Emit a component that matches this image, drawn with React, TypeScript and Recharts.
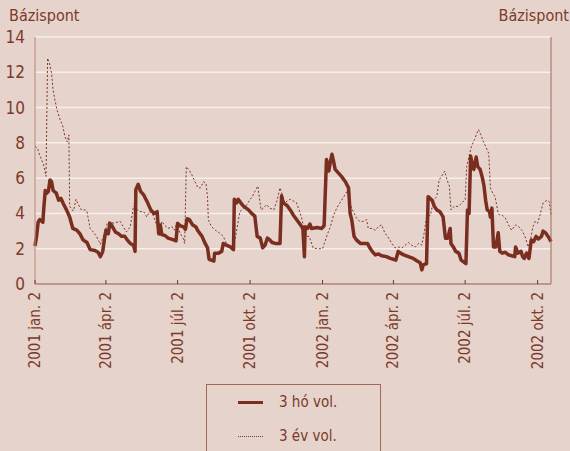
import { LineChart, Line, XAxis, YAxis, CartesianGrid } from "recharts"

// day index counted from 2001-01-02
const tickDays = [0, 90, 181, 273, 365, 455, 546, 638]
const tickLabels = [
  "2001 jan. 2",
  "2001 ápr. 2",
  "2001 júl. 2",
  "2001 okt. 2",
  "2002 jan. 2",
  "2002 ápr. 2",
  "2002 júl. 2",
  "2002 okt. 2",
]
const yTicks = [0, 2, 4, 6, 8, 10, 12, 14]

// 3 hó vol.
const hoDays = [
  0, 2, 4, 6, 10, 11, 13, 15, 17, 19, 21, 23, 27, 30, 33, 36, 40, 44, 48, 53, 57, 61, 66, 70, 76, 80, 83, 86, 88,
  90, 93, 95, 97, 102, 106, 110, 114, 117, 121, 125, 127, 128, 131, 134, 138, 143, 147, 151, 155, 157, 159, 161,
  165, 169, 176, 179, 181, 184, 188, 191, 193, 196, 200, 204, 207, 212, 216, 219, 221, 224, 227, 228, 233, 237,
  239, 243, 248, 252, 253, 256, 258, 262, 265, 268, 271, 275, 279, 282, 286, 289, 292, 295, 298, 301, 305, 311,
  313, 315, 320, 324, 328, 332, 337, 340, 342, 343, 346, 349, 351, 358, 364, 367, 370, 373, 375, 377, 379, 381,
  385, 389, 394, 398, 400, 402, 405, 408, 413, 419, 422, 425, 428, 432, 436, 440, 446, 451, 455, 458, 461, 464,
  468, 474, 480, 485, 489, 491, 493, 497, 499, 504, 507, 510, 514, 518, 521, 524, 527, 528, 531, 534, 538, 541,
  544, 547, 549, 551, 553, 556, 557, 560, 562, 565, 568, 570, 572, 574, 577, 578, 580, 582, 585, 588, 590, 593,
  597, 601, 605, 609, 610, 613, 617, 619, 621, 624, 627, 630, 633, 636, 639, 643, 645, 648, 652, 655,
]
const hoValues = [
  2.15, 2.7, 3.5, 3.65, 3.5, 4.2, 5.3, 5.15, 5.25, 5.9, 5.8, 5.3, 5.15, 4.75, 4.85, 4.55, 4.2, 3.8, 3.15, 3.05,
  2.85, 2.5, 2.35, 1.95, 1.9, 1.8, 1.55, 1.85, 2.5, 3.05, 2.85, 3.45, 3.35, 2.95, 2.85, 2.7, 2.7, 2.5, 2.3, 2.2,
  1.85, 5.35, 5.65, 5.25, 5.05, 4.6, 4.2, 4.0, 4.1, 2.85, 3.35, 2.8, 2.75, 2.6, 2.5, 2.45, 3.45, 3.3, 3.25, 3.1,
  3.7, 3.65, 3.35, 3.25, 3.0, 2.7, 2.3, 2.05, 1.4, 1.35, 1.3, 1.75, 1.75, 1.85, 2.3, 2.2, 2.1, 1.95, 4.8, 4.6,
  4.8, 4.55, 4.4, 4.3, 4.2, 4.0, 3.85, 2.7, 2.6, 2.05, 2.2, 2.6, 2.5, 2.35, 2.3, 2.3, 5.0, 4.6, 4.45, 4.2, 3.9,
  3.65, 3.35, 3.15, 1.55, 3.25, 3.15, 3.4, 3.15, 3.2, 3.15, 3.3, 7.05, 6.4, 6.95, 7.35, 6.95, 6.5, 6.3, 6.1, 5.8,
  5.45, 4.0, 3.65, 2.7, 2.5, 2.3, 2.3, 2.3, 2.05, 1.85, 1.65, 1.7, 1.6, 1.55, 1.45, 1.4, 1.35, 1.85, 1.75, 1.65,
  1.55, 1.45, 1.3, 1.2, 0.8, 1.1, 1.15, 4.95, 4.75, 4.4, 4.2, 4.1, 3.8, 2.6, 2.6, 3.15, 2.3, 2.1, 1.85, 1.75, 1.35,
  1.25, 1.15, 4.2, 4.0, 7.25, 6.55, 6.5, 7.2, 6.65, 6.5, 6.0, 5.55, 4.75, 4.2, 4.1, 3.8, 4.3, 2.1, 2.1, 2.9, 1.85,
  1.75, 1.8, 1.65, 1.6, 1.55, 2.1, 1.75, 1.85, 1.55, 1.45, 1.75, 1.45, 2.5, 2.4, 2.7, 2.55, 2.7, 3.0, 2.9, 2.65, 2.4,
]

// 3 év vol.
const evDays = [
  0, 3, 6, 11, 14, 16, 19, 21, 23, 25, 28, 32, 35, 38, 41, 43, 44, 47, 49, 52, 55, 59, 64, 66, 70, 74, 78, 83, 85,
  89, 92, 95, 100, 104, 108, 112, 116, 121, 125, 127, 133, 138, 142, 145, 150, 155, 158, 161, 165, 169, 174, 177,
  180, 184, 188, 190, 192, 195, 199, 203, 207, 210, 214, 217, 219, 220, 224, 229, 234, 239, 243, 248, 252, 256,
  260, 265, 269, 273, 276, 279, 283, 284, 287, 290, 294, 298, 303, 307, 311, 314, 317, 320, 324, 328, 332, 336,
  339, 342, 345, 348, 353, 358, 365, 368, 371, 375, 379, 383, 387, 392, 395, 398, 400, 403, 408, 412, 417, 421,
  423, 428, 432, 436, 440, 444, 449, 453, 457, 461, 466, 470, 474, 478, 483, 487, 491, 494, 497, 502, 506, 510,
  513, 516, 520, 523, 526, 528, 532, 537, 540, 544, 546, 548, 551, 554, 558, 561, 563, 566, 569, 572, 576, 578,
  581, 584, 588, 590, 593, 597, 601, 605, 610, 614, 618, 622, 626, 629, 632, 635, 638, 641, 645, 650, 653, 655,
]
const evValues = [
  7.8, 7.7, 7.3, 6.75, 6.1, 12.8, 12.4, 11.95, 11.0, 10.5, 9.85, 9.3, 9.0, 8.35, 8.05, 8.45, 4.4, 4.2, 4.15, 4.8,
  4.5, 4.2, 4.2, 4.1, 3.15, 2.95, 2.7, 2.25, 2.5, 2.95, 3.5, 3.5, 3.45, 3.5, 3.55, 3.25, 2.95, 3.25, 4.4, 4.3, 4.1,
  4.1, 3.8, 4.1, 3.9, 3.25, 2.7, 3.55, 3.3, 3.15, 3.25, 3.05, 3.45, 2.9, 2.6, 2.3, 6.65, 6.5, 6.2, 5.8, 5.45,
  5.45, 5.8, 5.7, 4.95, 3.65, 3.25, 3.05, 2.9, 2.7, 2.3, 2.1, 2.05, 3.05, 4.1, 4.3, 4.5, 4.8, 4.95, 5.25, 5.55,
  5.15, 4.2, 4.3, 4.5, 4.3, 4.2, 4.7, 5.45, 5.05, 4.6, 4.7, 4.8, 4.7, 4.6, 4.1, 3.65, 3.05, 2.7, 2.7, 2.05, 2.0,
  2.0, 2.4, 2.8, 3.25, 3.9, 4.3, 4.6, 4.95, 5.15, 5.55, 4.5, 4.2, 3.75, 3.55, 3.55, 3.65, 3.15, 3.15, 3.05, 3.25,
  3.35, 2.9, 2.6, 2.3, 2.05, 2.1, 2.05, 2.2, 2.35, 2.2, 2.1, 2.3, 2.2, 2.9, 3.8, 3.9, 4.75, 4.95, 5.9, 6.1, 6.4,
  5.9, 5.55, 4.2, 4.4, 4.4, 4.5, 4.7, 4.75, 6.65, 7.25, 7.8, 8.2, 8.55, 8.75, 8.45, 8.1, 7.8, 7.4, 5.45, 5.15,
  4.95, 4.0, 3.9, 3.9, 3.75, 3.35, 3.05, 3.35, 3.25, 3.05, 2.7, 2.1, 2.5, 3.25, 3.55, 3.45, 3.9, 4.6, 4.75, 4.65,
  3.9,
]

const hoData = hoDays.map((d, i) => ({ d, v: hoValues[i] }))
const evData = evDays.map((d, i) => ({ d, v: evValues[i] }))

const bg = "#e6d3cb"
const brown = "#7a2e1f"
const textColor = "#7b3a2a"
const font = "'Liberation Sans Narrow', 'Arial Narrow', 'DejaVu Sans Condensed', sans-serif"

function DateTick(props: any) {
  const { x, y, payload } = props
  const i = tickDays.indexOf(payload.value)
  return (
    <g>
      <line x1={x} x2={x} y1={y - 4} y2={y} stroke={brown} strokeWidth={1} />
      <text
        x={x}
        y={y + 8}
        transform={`rotate(-90, ${x}, ${y + 8})`}
        textAnchor="end"
        dominantBaseline="central"
        fill={textColor}
        fontSize={15}
        fontFamily={font}
      >
        {tickLabels[i]}
      </text>
    </g>
  )
}

export default function App() {
  return (
    <div
      style={{
        position: "absolute",
        left: 0,
        top: 0,
        width: 570,
        height: 451,
        overflow: "hidden",
        background: bg,
        fontFamily: font,
      }}
    >
      <div style={{ position: "absolute", left: 9, top: 6, fontSize: 16, color: textColor }}>Bázispont</div>
      <div style={{ position: "absolute", right: 1, top: 6, fontSize: 16, color: textColor }}>Bázispont</div>
      <LineChart width={570} height={451} margin={{ top: 37, right: 0, bottom: 0, left: 0 }}>
        <CartesianGrid vertical={false} stroke="#f6efeb" strokeWidth={1.5} />
        <XAxis
          dataKey="d"
          type="number"
          domain={[0, 655]}
          ticks={tickDays}
          interval={0}
          height={167}
          tickSize={0}
          tickMargin={0}
          tick={<DateTick />}
          axisLine={{ stroke: "#8a4636", strokeWidth: 1.2 }}
        />
        <YAxis
          domain={[0, 14]}
          ticks={yTicks}
          width={35}
          tickLine={false}
          tickSize={0}
          tickMargin={10}
          axisLine={{ stroke: "#b98677" }}
          tick={{ fill: textColor, fontSize: 17, fontFamily: font }}
        />
        <YAxis
          yAxisId="r"
          orientation="right"
          domain={[0, 14]}
          ticks={yTicks}
          width={19}
          tick={false}
          tickLine={false}
          axisLine={{ stroke: "#a46a5b" }}
        />
        <Line
          data={evData}
          dataKey="v"
          type="linear"
          stroke="#7d3526"
          strokeWidth={1}
          strokeDasharray="2 2"
          dot={false}
          isAnimationActive={false}
        />
        <Line
          data={hoData}
          dataKey="v"
          type="linear"
          stroke={brown}
          strokeWidth={3.5}
          strokeLinejoin="round"
          dot={false}
          isAnimationActive={false}
        />
      </LineChart>
      <div
        style={{
          position: "absolute",
          left: 206,
          top: 384,
          width: 173,
          height: 90,
          border: "1px solid #a06a5a",
          color: textColor,
          fontSize: 15,
        }}
      >
        <div style={{ position: "absolute", left: 31, top: 16, width: 25, height: 3, background: brown }} />
        <div style={{ position: "absolute", left: 72, top: 8 }}>3 hó vol.</div>
        <div
          style={{ position: "absolute", left: 31, top: 51, width: 25, height: 0, borderTop: "1px dotted #7d3526" }}
        />
        <div style={{ position: "absolute", left: 72, top: 42 }}>3 év vol.</div>
      </div>
    </div>
  )
}
